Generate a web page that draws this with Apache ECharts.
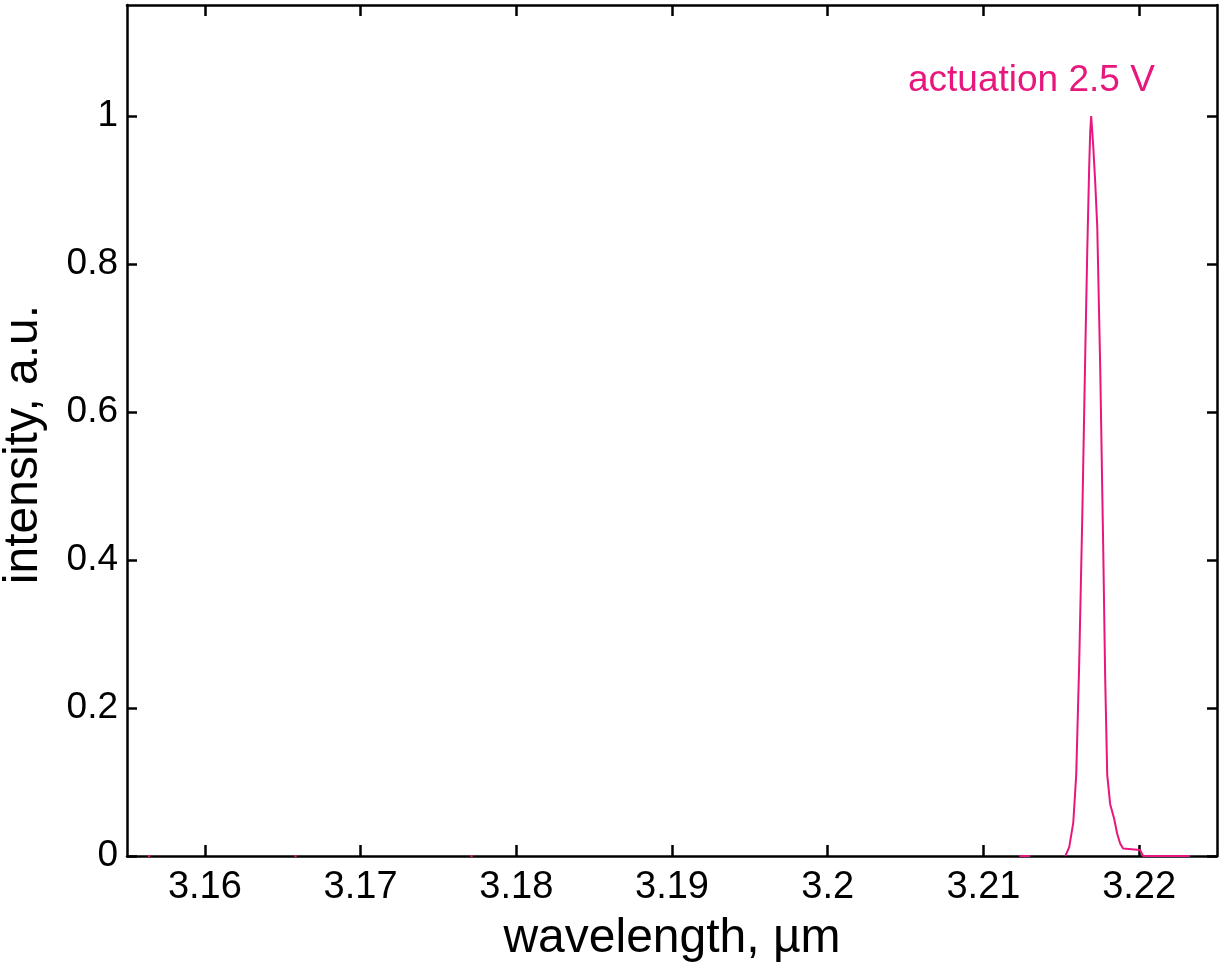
<!DOCTYPE html>
<html>
<head>
<meta charset="utf-8">
<title>Spectrum at actuation 2.5 V</title>
<script src="https://cdn.jsdelivr.net/npm/echarts@6/dist/echarts.min.js"></script>
<style>
  html, body { margin: 0; padding: 0; background: #ffffff; }
  #chart { width: 1223px; height: 967px; }
</style>
</head>
<body>
<div id="chart"></div>
<script>
// Wavelength samples (µm); null intensity breaks the trace between segments
const wavelength = [
  3.15635, 3.15650, 3.1600,
  3.16575, 3.16590, 3.1700,
  3.17705, 3.17720, 3.2000,
  3.21231, 3.21301, 3.2140,
  3.21526, 3.21551, 3.21577, 3.21596, 3.21615, 3.21635, 3.21654, 3.21667,
  3.21679, 3.21686, 3.21692, 3.21705, 3.21718, 3.21731, 3.21750, 3.21769,
  3.21782, 3.21795, 3.21814, 3.21840, 3.21859, 3.21878, 3.21897, 3.22006,
  3.22026, 3.22327
];
// Normalised intensity (a.u.)
const intensity = [
  0, 0, null,
  0, 0, null,
  0, 0, null,
  0, 0, null,
  0, 0.012, 0.045, 0.11, 0.26, 0.46, 0.68, 0.82,
  0.93, 0.98, 1.00, 0.96, 0.91, 0.85, 0.66, 0.42,
  0.24, 0.11, 0.07, 0.05, 0.03, 0.017, 0.01, 0.008,
  0, 0
];

const xTicks = [3.16, 3.17, 3.18, 3.19, 3.2, 3.21, 3.22];
const yTicks = [0, 0.2, 0.4, 0.6, 0.8, 1];
const xRange = [3.155, 3.225];
const yRange = [0, 1.15];

const traceLabel = 'actuation 2.5 V';
const traceLabelAt = [3.21308, 1.047];

const pink = '#E8177D';
const ink = '#000000';
const fontFamily = '"Liberation Sans", Arial, Helvetica, sans-serif';

const points = wavelength.map((w, i) => [w, intensity[i] === null ? '-' : intensity[i]]);

const axisLineStyle = { color: ink, width: 2.5 };

const chart = echarts.init(document.getElementById('chart'), null, { renderer: 'canvas' });

chart.setOption({
  backgroundColor: '#ffffff',
  animation: false,
  grid: { left: 127, right: 6, top: 5, bottom: 111, containLabel: false, outerBoundsMode: 'none' },
  xAxis: [
    {
      type: 'value',
      position: 'bottom',
      min: xRange[0],
      max: xRange[1],
      name: 'wavelength, \u00b5m',
      nameLocation: 'middle',
      nameGap: 59,
      nameTextStyle: { color: ink, fontSize: 48, fontFamily: fontFamily },
      axisLine: { show: true, onZero: false, lineStyle: axisLineStyle },
      axisTick: { show: true, inside: true, length: 11, customValues: xTicks, lineStyle: { color: ink, width: 2.5 } },
      axisLabel: {
        show: true, customValues: xTicks, margin: 13,
        color: ink, fontSize: 38, fontFamily: fontFamily,
        formatter: v => String(+v.toFixed(4))
      },
      splitLine: { show: false }
    },
    {
      type: 'value',
      position: 'top',
      min: xRange[0],
      max: xRange[1],
      axisLine: { show: true, onZero: false, lineStyle: axisLineStyle },
      axisTick: { show: true, inside: true, length: 11, customValues: xTicks, lineStyle: { color: ink, width: 2.5 } },
      axisLabel: { show: false },
      splitLine: { show: false }
    }
  ],
  yAxis: [
    {
      type: 'value',
      position: 'left',
      min: yRange[0],
      max: yRange[1],
      name: 'intensity, a.u.',
      nameLocation: 'middle',
      nameGap: 79,
      nameTextStyle: { color: ink, fontSize: 48, fontFamily: fontFamily, padding: [0, 0, 0, -28] },
      axisLine: { show: true, onZero: false, lineStyle: axisLineStyle },
      axisTick: { show: true, inside: true, length: 10, customValues: yTicks, lineStyle: { color: ink, width: 2.5 } },
      axisLabel: {
        show: true, customValues: yTicks, margin: 9,
        color: ink, fontSize: 37, fontFamily: fontFamily,
        formatter: v => String(+v.toFixed(2))
      },
      splitLine: { show: false }
    },
    {
      type: 'value',
      position: 'right',
      min: yRange[0],
      max: yRange[1],
      axisLine: { show: true, onZero: false, lineStyle: axisLineStyle },
      axisTick: { show: true, inside: true, length: 10, customValues: yTicks, lineStyle: { color: ink, width: 2.5 } },
      axisLabel: { show: false },
      splitLine: { show: false }
    }
  ],
  series: [
    {
      type: 'line',
      xAxisIndex: 0,
      yAxisIndex: 0,
      data: points,
      showSymbol: false,
      connectNulls: false,
      clip: true,
      lineStyle: { color: pink, width: 2 },
      itemStyle: { color: pink },
      z: 5,
      markPoint: {
        symbol: 'circle',
        symbolSize: 0,
        silent: true,
        animation: false,
        label: {
          show: true,
          position: 'inside',
          formatter: traceLabel,
          color: pink,
          fontSize: 37,
          fontFamily: fontFamily
        },
        data: [{ coord: traceLabelAt, value: 0 }]
      }
    }
  ]
});
</script>
</body>
</html>
